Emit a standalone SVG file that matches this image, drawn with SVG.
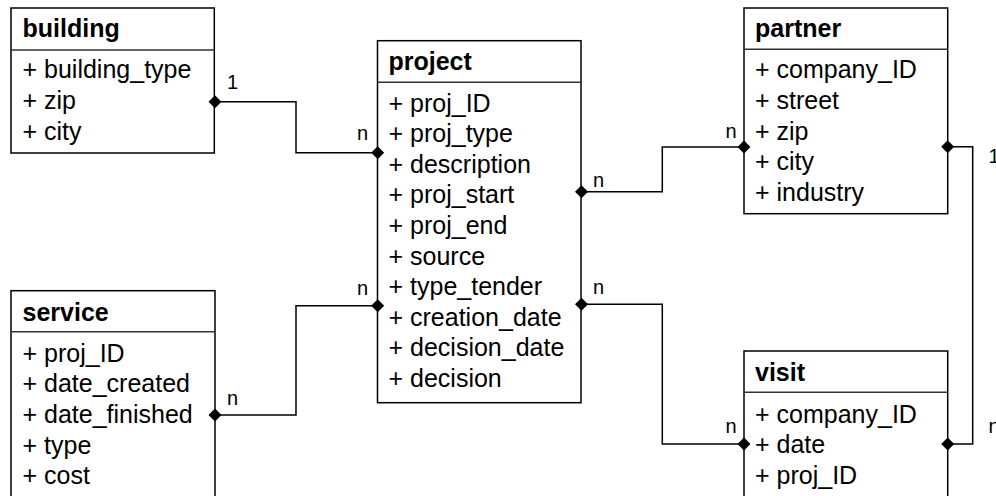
<svg xmlns="http://www.w3.org/2000/svg" width="996" height="496" viewBox="0 0 996 496">
<defs>
<style>
.box{fill:#fff;stroke:#000;stroke-width:1.5}
.div{stroke:#333;stroke-width:1.5}
.title{font-family:"Liberation Sans",Arial,sans-serif;font-size:25px;font-weight:bold;fill:#000}
.attr{font-family:"Liberation Sans",Arial,sans-serif;font-size:25px;fill:#000}
.lbl{font-family:"Liberation Sans",Arial,sans-serif;font-size:20px;fill:#000}
.conn{fill:none;stroke:#000;stroke-width:1.5}
.dia{fill:#000}
</style>
<path id="d" d="M-6.5,0 L0,-6.5 L6.5,0 L0,6.5 Z"/>
</defs>
<rect width="996" height="496" fill="#fff"/>
<g id="building">
<rect class="box" x="11" y="8" width="203.3" height="145"/>
<line class="div" x1="11" y1="50" x2="214.3" y2="50"/>
<text class="title" x="22.5" y="37.3">building</text>
<text class="attr" x="22.5" y="78.3">+ building_type</text>
<text class="attr" x="22.5" y="108.9">+ zip</text>
<text class="attr" x="22.5" y="139.5">+ city</text>
</g>
<g id="project">
<rect class="box" x="377.5" y="40.7" width="203.5" height="362"/>
<line class="div" x1="377.5" y1="82.3" x2="581" y2="82.3"/>
<text class="title" x="388.5" y="70">project</text>
<text class="attr" x="388.5" y="111.7">+ proj_ID</text>
<text class="attr" x="388.5" y="142.2">+ proj_type</text>
<text class="attr" x="388.5" y="172.8">+ description</text>
<text class="attr" x="388.5" y="203.4">+ proj_start</text>
<text class="attr" x="388.5" y="234">+ proj_end</text>
<text class="attr" x="388.5" y="264.6">+ source</text>
<text class="attr" x="388.5" y="295.2">+ type_tender</text>
<text class="attr" x="388.5" y="325.8">+ creation_date</text>
<text class="attr" x="388.5" y="356.4">+ decision_date</text>
<text class="attr" x="388.5" y="387">+ decision</text>
</g>
<g id="partner">
<rect class="box" x="744" y="8" width="203.7" height="205.7"/>
<line class="div" x1="744" y1="49.3" x2="947.7" y2="49.3"/>
<text class="title" x="755" y="37.3">partner</text>
<text class="attr" x="755" y="78.3">+ company_ID</text>
<text class="attr" x="755" y="108.9">+ street</text>
<text class="attr" x="755" y="139.5">+ zip</text>
<text class="attr" x="755" y="170.1">+ city</text>
<text class="attr" x="755" y="200.7">+ industry</text>
</g>
<g id="service">
<rect class="box" x="11" y="290.7" width="204" height="240"/>
<line class="div" x1="11" y1="331.7" x2="215" y2="331.7"/>
<text class="title" x="22.5" y="320.7">service</text>
<text class="attr" x="22.5" y="361.7">+ proj_ID</text>
<text class="attr" x="22.5" y="392.3">+ date_created</text>
<text class="attr" x="22.5" y="422.9">+ date_finished</text>
<text class="attr" x="22.5" y="453.5">+ type</text>
<text class="attr" x="22.5" y="484.1">+ cost</text>
</g>
<g id="visit">
<rect class="box" x="744" y="351" width="203.7" height="200"/>
<line class="div" x1="744" y1="392.3" x2="947.7" y2="392.3"/>
<text class="title" x="755" y="381">visit</text>
<text class="attr" x="755" y="422.7">+ company_ID</text>
<text class="attr" x="755" y="453.3">+ date</text>
<text class="attr" x="755" y="483.9">+ proj_ID</text>
</g>
<g id="connectors">
<polyline class="conn" points="215,101.7 296,101.7 296,152.7 377.7,152.7"/>
<polyline class="conn" points="581.5,191.7 662.3,191.7 662.3,147 744,147"/>
<polyline class="conn" points="947.7,146.7 972.7,146.7 972.7,444 947.7,444"/>
<polyline class="conn" points="581.5,304.3 662.3,304.3 662.3,444 744,444"/>
<polyline class="conn" points="215,415 296,415 296,305.7 377.7,305.7"/>
<use href="#d" class="dia" x="215" y="101.7"/>
<use href="#d" class="dia" x="377.7" y="152.7"/>
<use href="#d" class="dia" x="581.5" y="191.7"/>
<use href="#d" class="dia" x="744" y="147"/>
<use href="#d" class="dia" x="947.7" y="146.7"/>
<use href="#d" class="dia" x="947.7" y="444"/>
<use href="#d" class="dia" x="581.5" y="304.3"/>
<use href="#d" class="dia" x="744" y="444"/>
<use href="#d" class="dia" x="215" y="415"/>
<use href="#d" class="dia" x="377.7" y="305.7"/>
<text class="lbl" x="227" y="89">1</text>
<text class="lbl" x="357" y="140">n</text>
<text class="lbl" x="593" y="187">n</text>
<text class="lbl" x="725.5" y="138">n</text>
<text class="lbl" x="988.5" y="163">1</text>
<text class="lbl" x="988.5" y="433">n</text>
<text class="lbl" x="593" y="294">n</text>
<text class="lbl" x="725.5" y="433">n</text>
<text class="lbl" x="227" y="405">n</text>
<text class="lbl" x="357" y="295">n</text>
</g>
</svg>
